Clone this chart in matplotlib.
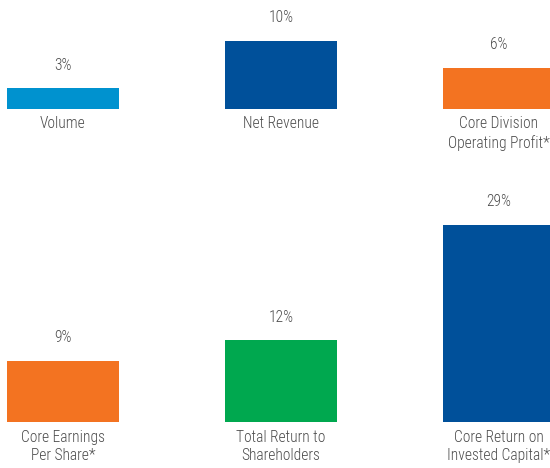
import matplotlib.pyplot as plt

# top row and bottom row of the small bar panels
top_labels = ["Volume", "Net Revenue", "Core Division\nOperating Profit*"]
top_values = [3, 10, 6]
top_colors = ["#0092CF", "#00509A", "#F37321"]

bottom_labels = ["Core Earnings\nPer Share*", "Total Return to\nShareholders", "Core Return on\nInvested Capital*"]
bottom_values = [9, 12, 29]
bottom_colors = ["#F37321", "#00A84F", "#00509A"]

plt.rcParams['font.family'] = ['Roboto Condensed', 'DejaVu Sans']
plt.rcParams['font.weight'] = 300
text_color = "#4d4d4d"

fig = plt.figure(figsize=(5.5, 4.68), dpi=100)

def draw_row(ax, labels, values, colors, ymax):
    x = range(len(values))
    ax.bar(x, values, width=0.514, color=colors)
    for i, v in enumerate(values):
        ax.annotate(f"{v}%", (i, v), xytext=(0, 16.5), textcoords="offset points",
                    ha="center", va="center", fontsize=11.2, color=text_color)
        ax.annotate(labels[i], (i, 0), xytext=(0, -5.5), textcoords="offset points",
                    ha="center", va="top", fontsize=11.2, color=text_color,
                    linespacing=1.3, annotation_clip=False)
    ax.set_xlim(-63 / 218, (550 - 63) / 218)
    ax.set_ylim(0, ymax)
    ax.axis("off")

ax1 = fig.add_axes([0, (468 - 108.7) / 468, 1, 108.7 / 468])
draw_row(ax1, top_labels, top_values, top_colors, 108.7 / 6.8)

ax2 = fig.add_axes([0, (468 - 422) / 468, 1, 262 / 468])
draw_row(ax2, bottom_labels, bottom_values, bottom_colors, 262 / 6.8)

plt.savefig("out.png", dpi=100)
